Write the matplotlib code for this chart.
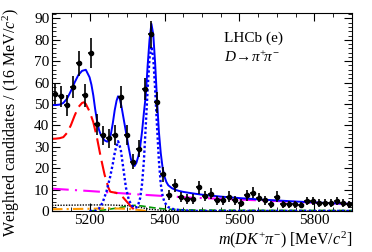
import matplotlib
matplotlib.use("Agg")
import matplotlib.pyplot as plt
import numpy as np
from matplotlib.ticker import MultipleLocator

plt.rcParams['font.family'] = ['Liberation Serif', 'DejaVu Serif']
plt.rcParams['mathtext.fontset'] = 'custom'
plt.rcParams['mathtext.rm'] = 'Liberation Serif'
plt.rcParams['mathtext.it'] = 'Liberation Serif:italic'

# data points (16 MeV bins)
bin_centres = np.arange(5108, 5900, 16)
counts = [54.6, 53.6, 49.4, 57.8, 69.0, 54.0, 73.7, 40.5, 35.4, 34.0,
          35.5, 53.2, 35.5, 23.0, 29.0, 57.0, 82.5, 50.8, 17.2, 7.5,
          12.0, 6.5, 5.5, 5.5, 11.0, 7.0, 8.0, 5.0, 5.0, 6.7,
          5.0, 3.9, 7.3, 8.6, 6.2, 5.0, 3.1, 6.7, 3.1, 3.1,
          3.1, 2.8, 4.7, 4.7, 3.9, 3.9, 3.6, 4.7, 3.6, 3.1]
errors = [4.7, 5.0, 4.8, 5.2, 6.0, 5.5, 7.0, 5.0, 4.5, 4.5,
          4.5, 5.0, 4.5, 3.5, 4.0, 5.0, 6.5, 5.0, 3.5, 2.5,
          3.0, 2.5, 2.2, 2.2, 3.0, 2.5, 2.5, 2.0, 2.0, 2.5,
          2.0, 1.9, 2.5, 2.6, 2.2, 2.0, 1.7, 2.4, 1.7, 1.7,
          1.7, 1.6, 2.0, 2.0, 1.9, 1.9, 1.8, 2.0, 1.8, 1.7]

# total fit
tot_m = [5100, 5110, 5120, 5130, 5140, 5150, 5160, 5170, 5180, 5190,
         5200, 5205, 5210, 5215, 5220, 5225, 5230, 5240, 5247, 5252,
         5257, 5262, 5267, 5272, 5276, 5280, 5285, 5290, 5295, 5300,
         5305, 5310, 5315, 5320, 5325, 5330, 5335, 5340, 5345, 5350,
         5355, 5360, 5365, 5370, 5375, 5380, 5385, 5390, 5395, 5400,
         5405, 5410, 5420, 5430, 5440, 5450, 5475, 5500, 5550, 5600,
         5650, 5700, 5750, 5800, 5850, 5900]
tot_v = [49.5, 49.5, 49.7, 50.5, 52.5, 56.0, 60.0, 63.5, 65.5, 66.0,
         62.5, 59.0, 54.0, 47.5, 42.0, 38.0, 35.5, 33.0, 32.4, 33.0,
         36.0, 41.0, 47.0, 51.5, 53.6, 52.8, 49.0, 44.0, 39.0, 34.0,
         29.0, 24.5, 21.5, 21.0, 22.5, 25.5, 30.0, 37.0, 46.0, 54.0,
         68.0, 80.0, 87.5, 82.5, 69.0, 52.0, 37.0, 27.0, 20.0, 16.0,
         13.5, 12.0, 10.6, 9.8, 9.3, 8.9, 8.2, 7.6, 6.7, 6.0,
         5.4, 4.9, 4.4, 4.0, 3.6, 3.3]

# partially reconstructed background (red dashed)
red_m = [5100, 5110, 5120, 5130, 5140, 5150, 5160, 5170, 5180, 5185,
         5190, 5200, 5210, 5220, 5230, 5240, 5250, 5255, 5260, 5270,
         5280, 5290, 5300, 5310, 5320, 5330]
red_v = [33.7, 33.8, 34.0, 34.5, 36.5, 40.0, 44.5, 48.5, 50.5, 50.8,
         50.0, 46.5, 41.5, 34.0, 25.0, 17.0, 11.0, 9.0, 8.8, 8.5,
         7.8, 6.2, 4.2, 2.2, 0.4, 0.0]

# signal peaks (blue dotted)
sig_m = [5200, 5215, 5225, 5235, 5245, 5255, 5262, 5268, 5276, 5283,
         5290, 5297, 5305, 5313, 5320, 5325, 5330, 5335, 5340, 5345,
         5350, 5355, 5360, 5365, 5370, 5375, 5380, 5385, 5390, 5395,
         5400, 5410, 5420, 5440, 5480, 5900]
sig_v = [0.0, 0.0, 1.0, 4.0, 9.0, 16.0, 22.0, 28.0, 32.6, 29.0,
         20.0, 11.0, 5.0, 2.5, 1.5, 1.6, 3.0, 6.0, 12.5, 23.5,
         40.0, 57.0, 71.5, 77.0, 71.5, 57.0, 39.6, 23.5, 12.5, 7.0,
         4.0, 1.8, 1.0, 0.4, 0.0, 0.0]

# combinatorial (magenta dash-dot)
comb_m = [5100, 5200, 5340, 5460, 5600, 5700, 5800, 5900]
comb_v = [10.4, 9.3, 7.6, 6.3, 5.3, 4.6, 3.9, 3.2]

# small components
blk_m = [5100, 5200, 5250, 5300, 5330, 5360, 5400, 5450, 5900]
blk_v = [2.6, 2.8, 2.8, 2.5, 1.8, 0.8, 0.2, 0.0, 0.0]
grn_m = [5200, 5240, 5280, 5300, 5320, 5340, 5370, 5400, 5450, 5500, 5600, 5900]
grn_v = [0.0, 0.5, 1.5, 2.2, 2.6, 2.3, 1.5, 0.9, 0.5, 0.4, 0.3, 0.2]
org_m = [5100, 5200, 5250, 5300, 5330, 5350]
org_v = [0.8, 1.0, 1.2, 1.0, 0.5, 0.0]

fig = plt.figure(figsize=(3.72, 2.52), dpi=100)
ax = fig.add_axes([0.140, 0.163, 0.806, 0.785])

ax.plot(grn_m, grn_v, color='#009900', ls=(0, (4, 2)), lw=1.2)
ax.plot(org_m, org_v, color='#ff9900', ls=(0, (5, 2, 1, 2)), lw=1.5)
ax.plot(blk_m, blk_v, color='black', ls=(0, (1, 1)), lw=1.0)
ax.plot(comb_m, comb_v, color='#ff00ff', ls=(0, (8, 3, 1, 3)), lw=1.5)
ax.plot(red_m, red_v, color='#ff0000', ls=(0, (8, 3)), lw=1.5)
ax.plot(sig_m, sig_v, color='#0000ff', ls=(0, (1, 1)), lw=1.7)
ax.plot(tot_m, tot_v, color='#0000ff', lw=1.4)

ax.errorbar(bin_centres, counts, yerr=errors, xerr=8, fmt='o', color='black',
            ms=3, lw=1.2, capsize=0)

ax.set_xlim(5100, 5900)
ax.set_ylim(0, 92.5)
ax.xaxis.set_major_locator(MultipleLocator(200))
ax.xaxis.set_minor_locator(MultipleLocator(50))
ax.yaxis.set_major_locator(MultipleLocator(10))
ax.yaxis.set_minor_locator(MultipleLocator(2))
ax.tick_params(which='both', direction='in', top=True, right=True,
               labelsize=11, pad=2)
ax.tick_params(which='major', length=6)
ax.tick_params(which='minor', length=3)

ax.set_xlabel(r'$m(DK^{+}\pi^{-})$ [MeV/$c^{2}$]', fontsize=11.5, ha='right',
              va='center')
ax.xaxis.set_label_coords(1.0, -0.145)
ax.set_ylabel(r'Weighted candidates / (16 MeV/$c^{2}$)', fontsize=11.5,
              va='center')
ax.yaxis.set_label_coords(-0.135, 0.45)

ax.text(0.573, 0.855, 'LHCb (e)', transform=ax.transAxes, fontsize=11)
ax.text(0.573, 0.755, r'$D\!\rightarrow\!\pi^{+}\!\pi^{-}$', transform=ax.transAxes,
        fontsize=11)

fig.savefig('out.png', dpi=100)
